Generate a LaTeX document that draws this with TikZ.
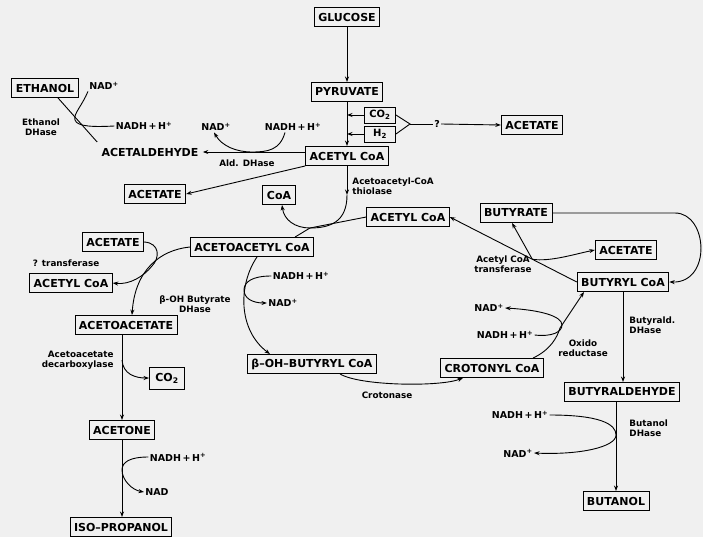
\documentclass[tikz,border=0pt]{standalone}
\usepackage{fontspec}
\setmainfont{DejaVu Sans}
\usetikzlibrary{calc, positioning}
\usetikzlibrary{arrows.meta}

\begin{document}
\begin{tikzpicture}[x=1pt, y=-1pt, line width=0.9pt,
  met/.style={draw, inner xsep=4pt, inner ysep=0pt, minimum height=19pt, font=\bfseries\fontsize{11}{12}\selectfont},
  gas/.style={draw, inner xsep=2pt, inner ysep=0pt, minimum height=16pt, minimum width=31pt, font=\bfseries\fontsize{10}{12}\selectfont},
  cof/.style={font=\bfseries\fontsize{9.5}{10}\selectfont, inner sep=1pt},
  enz/.style={font=\bfseries\fontsize{8.8}{10}\selectfont, align=center, inner sep=1pt},
  arr/.style={-{Stealth[length=5.5pt, width=4pt]}}]

\fill[black!6] (0,0) rectangle (703,537);
\useasboundingbox (0,0) rectangle (703,537);

% glucose to acetyl CoA
\node[met] (glucose) at (347,17) {GLUCOSE};
\node[met] (pyruvate) at (347,92) {PYRUVATE};
\node[gas] (co2) at (380,115) {CO\textsubscript{2}};
\node[gas] (h2) at (380,134) {H\textsubscript{2}};
\node[met] (acetylcoa) at (347,156) {ACETYL CoA};
\node[cof] (q) at (437,124) {?};
\node[met] (acetate1) at (532,125) {ACETATE};
\coordinate (gasj) at (410,124);

\draw[arr] (glucose) -- (pyruvate);
\draw[arr] (pyruvate) -- (acetylcoa);
\draw[arr] (co2.west) -- (co2.west -| pyruvate.south);
\draw[arr] (h2.west) -- (h2.west -| pyruvate.south);
\draw (co2.east) -- (gasj) -- (h2.east);
\draw (gasj) -- (q.west);
\draw[arr] (q.east) -- (acetate1.west);

% ethanol branch
\node[met] (ethanol) at (45,88) {ETHANOL};
\node[cof] (nad1) at (104,86) {NAD\textsuperscript{+}};
\node[cof] (nadh1) at (144,126) {NADH\,+\,H\textsuperscript{+}};
\node[enz] (ethdh) at (41,127) {Ethanol\\DHase};
\node[met, draw=none] (acetald) at (150,152) {ACETALDEHYDE};
\node[cof] (nad2) at (216,127) {NAD\textsuperscript{+}};
\node[cof] (nadh2) at (293,127) {NADH\,+\,H\textsuperscript{+}};
\node[enz] (alddh) at (247,163) {Ald. DHase};
\node[met] (acetate2) at (155,194) {ACETATE};

\draw ([xshift=13pt]ethanol.south) -- (acetald.north west);
\draw (nad1.south west) .. controls (82,106) and (73,114) .. (75,120)
  .. controls (77,127) and (95,127) .. (nadh1.west);
\draw[arr] (acetylcoa.west |- acetald.east) -- (acetald.east);
\draw[arr] ([xshift=-8pt]nadh2.south) .. controls (280,150) and (268,152) .. (252,152)
  .. controls (236,152) and (222,146) .. ([xshift=-2pt]nad2.south);
\draw[arr] (acetylcoa.south west) -- (acetate2.east);

% thiolase
\node[met] (coa) at (279,195) {CoA};
\node[enz, anchor=west, align=left] (thiol) at (351,186) {Acetoacetyl-CoA\\thiolase};
\node[met] (acetylcoa2) at (408,217) {ACETYL CoA};
\node[met] (acac) at (252,247) {ACETOACETYL CoA};
\coordinate (th1) at (347,195);
\coordinate (thj) at (310,228);

\draw[arr] (acetylcoa.south) -- (th1);
\draw (th1) .. controls (347,222) and (330,228) .. (thj);
\draw[arr] (thj) .. controls (295,228) and (284,220) .. ([xshift=3pt]coa.south);
\draw (acetylcoa2.west) -- (thj) -- ([xshift=43pt]acac.north);

% acetone / isopropanol
\node[met] (acetate3) at (113,242) {ACETATE};
\node[enz] (transf1) at (66,263) {? transferase};
\node[met] (acetylcoa3) at (71,283) {ACETYL CoA};
\node[met] (acetoacetate) at (126,325) {ACETOACETATE};
\node[enz, anchor=east, align=right] (decarb) at (115,360) {Acetoacetate\\decarboxylase};
\node[met, minimum width=35pt, minimum height=22pt] (co2b) at (167,378) {CO\textsubscript{2}};
\node[met] (acetone) at (122,430) {ACETONE};
\node[cof] (nadh6) at (178,457) {NADH\,+\,H\textsuperscript{+}};
\node[cof] (nad6) at (157,492) {NAD};
\node[met] (isoprop) at (121,527) {ISO–PROPANOL};
\coordinate (dcj) at (acetone.north |- 0,360);

\draw[arr] (acac.west) .. controls (160,250) and (135,270) .. ([xshift=6pt]acetoacetate.north);
\draw[arr] (acetate3.east) .. controls (160,243) and (160,258) .. (152,266)
  .. controls (144,276) and (130,285) .. (acetylcoa3.east);
\draw[arr] (acetoacetate.south -| acetone.north) -- (acetone.north);
\draw[arr] (dcj) .. controls (123,374) and (135,378) .. (co2b.west);
\draw[arr] (acetone.south) -- (acetone.south |- isoprop.north);
\draw[arr] (nadh6.west) .. controls (130,457) and (122,462) .. (122,470)
  .. controls (122,480) and (132,490) .. (nad6.west);

% butyryl CoA
\node[enz] (bohdh) at (195,304) {β-OH Butyrate\\DHase};
\node[cof] (nadh3) at (301,276) {NADH\,+\,H\textsuperscript{+}};
\node[cof] (nad3) at (283,303) {NAD\textsuperscript{+}};
\node[met] (bohb) at (312,364) {β–OH–BUTYRYL CoA};
\node[met] (croton) at (492,368) {CROTONYL CoA};
\node[enz] (crotonase) at (387,395) {Crotonase};
\node[cof] (nad4) at (489,308) {NAD\textsuperscript{+}};
\node[cof] (nadh4) at (505,335) {NADH\,+\,H\textsuperscript{+}};
\node[enz] (oxido) at (583,348) {Oxido\\reductase};
\node[met] (butyrylcoa) at (623,282) {BUTYRYL CoA};
\coordinate (oxj) at (560,328);

\draw[arr] ([xshift=5pt]acac.south) .. controls (238,285) and (238,330) .. ([xshift=-42pt]bohb.north);
\draw[arr] (nadh3.west) .. controls (252,276) and (244,282) .. (244,290)
  .. controls (244,298) and (252,303) .. (nad3.west);
\draw[arr] ([xshift=28pt]bohb.south) .. controls (360,386) and (440,387) .. ([xshift=-29pt]croton.south);
\draw[arr] ([xshift=41pt]croton.north) .. controls (550,350) and (557,338) .. (oxj)
  -- ([xshift=-39pt]butyrylcoa.south);
\draw[arr] (nadh4.east) .. controls (552,337) and (562,332) .. (562,325)
  .. controls (562,316) and (540,310) .. (nad4.east);

% CoA transferase
\node[met] (acetate4) at (626,250) {ACETATE};
\node[met] (butyrate) at (516,213) {BUTYRATE};
\node[enz] (transf2) at (503,264) {Acetyl CoA\\transferase};
\coordinate (trj) at ($(butyrylcoa.west)!0.35!(acetylcoa2.east)$);

\draw[arr] (butyrylcoa.west) -- (acetylcoa2.east);
\draw[arr] (trj) -- ([xshift=-4pt]butyrate.south);
\draw[arr] (trj) .. controls (550,262) and (575,254) .. (acetate4.west);
\draw[arr] (butyrate.east) -- (675,213) .. controls (708,213) and (712,283) .. (butyrylcoa.east);

% butanol
\node[enz, anchor=west, align=left] (butdh) at (628,325) {Butyrald.\\DHase};
\node[met] (butyrald) at (622,392) {BUTYRALDEHYDE};
\node[cof] (nadh5) at (520,415) {NADH\,+\,H\textsuperscript{+}};
\node[cof] (nad5) at (518,453) {NAD\textsuperscript{+}};
\node[enz, anchor=west, align=left] (budh) at (628,428) {Butanol\\DHase};
\node[met] (butanol) at (616,501) {BUTANOL};

\draw[arr] (butyrylcoa.south) -- (butyrylcoa.south |- butyrald.north);
\draw[arr] (butyrald.south -| butanol.north) -- (butanol.north);
\draw[arr] (nadh5.east) .. controls (600,415) and (616,424) .. (616,435)
  .. controls (616,447) and (580,455) .. (nad5.east);

\end{tikzpicture}
\end{document}
